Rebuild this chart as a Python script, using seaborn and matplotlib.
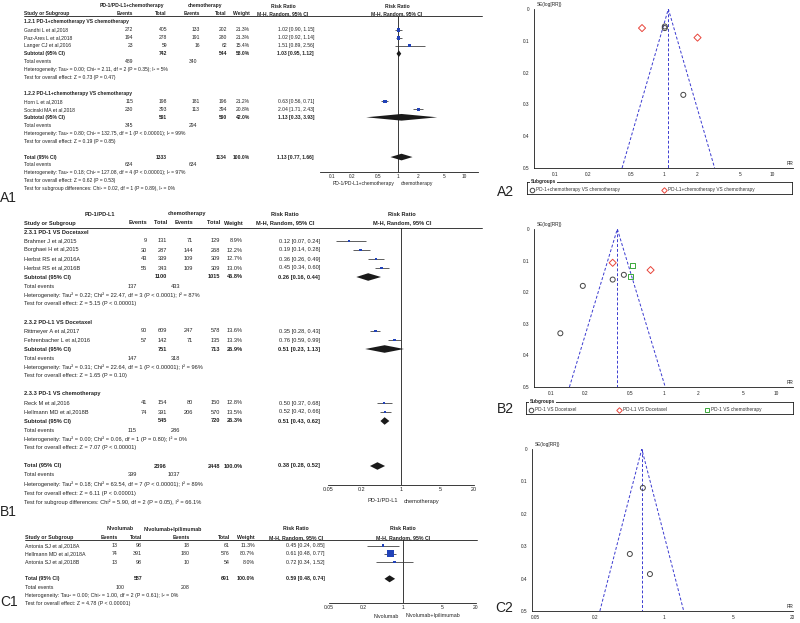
import numpy as np
import pandas as pd
import matplotlib
matplotlib.use('Agg')
import matplotlib.pyplot as plt
import seaborn as sns
from matplotlib.lines import Line2D
from matplotlib.ticker import NullLocator

# ---------------- A1: PD-1/PD-L1 + chemo vs chemo ----------------
a1_names = ['Gandhi L et al,2018', 'Paz-Ares L et al,2018', 'Langer CJ et al,2016',
            'Horn L et al,2018', 'Socinski MA et al,2018']
a1_sub = [0, 0, 0, 1, 1]
a1_ev1 = [272, 194, 23, 115, 230]
a1_n1 = [405, 278, 59, 198, 393]
a1_ev2 = [133, 191, 16, 181, 113]
a1_n2 = [202, 280, 62, 196, 394]
a1_w = [21.3, 21.3, 15.4, 21.2, 20.8]
a1_rr = [1.02, 1.02, 1.51, 0.63, 2.04]
a1_lo = [0.90, 0.92, 0.89, 0.56, 1.71]
a1_hi = [1.15, 1.14, 2.56, 0.71, 2.43]
a1_sub_titles = ['1.2.1 PD-1+chemotherapy VS chemotherapy',
                 '1.2.2 PD-L1+chemotherapy VS chemotherapy']
a1_sub_n1 = [742, 591]
a1_sub_n2 = [544, 590]
a1_sub_ev1 = [489, 345]
a1_sub_ev2 = [340, 294]
a1_sub_w = [58.0, 42.0]
a1_sub_rr = [1.03, 1.13]
a1_sub_lo = [0.95, 0.33]
a1_sub_hi = [1.12, 3.93]
a1_sub_het = ['Heterogeneity: Tau² = 0.00; Chi² = 2.11, df = 2 (P = 0.35); I² = 5%',
              'Heterogeneity: Tau² = 0.80; Chi² = 132.75, df = 1 (P < 0.00001); I² = 99%']
a1_sub_z = ['Test for overall effect: Z = 0.73 (P = 0.47)',
            'Test for overall effect: Z = 0.19 (P = 0.85)']
a1_tot = [1333, 1134, 634, 634]
a1_tot_rr = [1.13, 0.77, 1.66]
a1_foot = ['Heterogeneity: Tau² = 0.18; Chi² = 127.08, df = 4 (P < 0.00001); I² = 97%',
           'Test for overall effect: Z = 0.62 (P = 0.53)',
           'Test for subgroup differences: Chi² = 0.02, df = 1 (P = 0.89), I² = 0%']
a1_groups = ['PD-1/PD-L1+chemotherapy', 'chemotherapy']
a1_ticks = [0.1, 0.2, 0.5, 1, 2, 5, 10]
a1_ticklabels = ['0.1', '0.2', '0.5', '1', '2', '5', '10']

# ---------------- B1: PD-1/PD-L1 vs chemo ----------------
b1_names = ['Brahmer J et al,2015', 'Borghaei H et al,2015', 'Herbst RS et al,2016A',
            'Herbst RS et al,2016B', 'Rittmeyer A et al,2017', 'Fehrenbacher L et al,2016',
            'Reck M et al,2016', 'Hellmann MD et al,2018B']
b1_sub = [0, 0, 0, 0, 1, 1, 2, 2]
b1_ev1 = [9, 30, 43, 55, 90, 57, 41, 74]
b1_n1 = [131, 287, 339, 343, 609, 142, 154, 391]
b1_ev2 = [71, 144, 109, 109, 247, 71, 80, 206]
b1_n2 = [129, 268, 309, 309, 578, 135, 150, 570]
b1_w = [8.9, 12.2, 12.7, 13.0, 13.6, 13.3, 12.8, 13.5]
b1_rr = [0.12, 0.19, 0.36, 0.45, 0.35, 0.76, 0.50, 0.52]
b1_lo = [0.07, 0.14, 0.26, 0.34, 0.28, 0.59, 0.37, 0.42]
b1_hi = [0.24, 0.28, 0.49, 0.60, 0.43, 0.99, 0.68, 0.66]
b1_sub_titles = ['2.3.1 PD-1 VS Docetaxel', '2.3.2 PD-L1 VS Docetaxel', '2.3.3 PD-1 VS chemotherapy']
b1_sub_n1 = [1100, 751, 545]
b1_sub_n2 = [1015, 713, 720]
b1_sub_ev1 = [137, 147, 115]
b1_sub_ev2 = [433, 318, 286]
b1_sub_w = [46.8, 26.9, 26.3]
b1_sub_rr = [0.26, 0.51, 0.51]
b1_sub_lo = [0.16, 0.23, 0.43]
b1_sub_hi = [0.44, 1.13, 0.62]
b1_sub_het = ['Heterogeneity: Tau² = 0.22; Chi² = 22.47, df = 3 (P < 0.0001); I² = 87%',
              'Heterogeneity: Tau² = 0.31; Chi² = 22.64, df = 1 (P < 0.00001); I² = 96%',
              'Heterogeneity: Tau² = 0.00; Chi² = 0.06, df = 1 (P = 0.80); I² = 0%']
b1_sub_z = ['Test for overall effect: Z = 5.15 (P < 0.00001)',
            'Test for overall effect: Z = 1.65 (P = 0.10)',
            'Test for overall effect: Z = 7.07 (P < 0.00001)']
b1_tot = [2396, 2448, 399, 1037]
b1_tot_rr = [0.38, 0.28, 0.52]
b1_foot = ['Heterogeneity: Tau² = 0.18; Chi² = 63.54, df = 7 (P < 0.00001); I² = 89%',
           'Test for overall effect: Z = 6.11 (P < 0.00001)',
           'Test for subgroup differences: Chi² = 5.90, df = 2 (P = 0.05), I² = 66.1%']
b1_groups = ['PD-1/PD-L1', 'chemotherapy']
b1_sides = ['PD-1/PD-L1', 'chemotherapy']

# ---------------- C1: Nivolumab vs Nivolumab+Ipilimumab ----------------
c1_names = ['Antonia SJ et al,2018A', 'Hellmann MD et al,2018A', 'Antonia SJ et al,2018B']
c1_ev1 = [13, 74, 13]
c1_n1 = [98, 391, 98]
c1_ev2 = [18, 180, 10]
c1_n2 = [61, 576, 54]
c1_w = [11.3, 80.7, 8.0]
c1_rr = [0.45, 0.61, 0.72]
c1_lo = [0.24, 0.48, 0.34]
c1_hi = [0.85, 0.77, 1.52]
c1_tot = [587, 691, 100, 208]
c1_tot_rr = [0.59, 0.48, 0.74]
c1_foot = ['Heterogeneity: Tau² = 0.00; Chi² = 1.00, df = 2 (P = 0.61); I² = 0%',
           'Test for overall effect: Z = 4.78 (P < 0.00001)']
c1_groups = ['Nivolumab', 'Nivolumab+Ipilimumab']
c1_sides = ['Nivolumab', 'Nivolumab+Ipilimumab']
bc_ticks = [0.05, 0.2, 1, 5, 20]
bc_ticklabels = ['0.05', '0.2', '1', '5', '20']

# ---------------- funnel plots (RR, SE(log RR)) ----------------
a2_pooled = 1.1
a2_rr_g1 = [1.02, 1.02, 1.51]
a2_se_g1 = [0.06, 0.055, 0.27]
a2_rr_g2 = [0.63, 2.04]
a2_se_g2 = [0.06, 0.09]
a2_labels = ['PD-1+chemotherapy VS chemotherapy', 'PD-L1+chemotherapy VS chemotherapy']

b2_pooled = 0.385
b2_rr_g1 = [0.12, 0.19, 0.35, 0.44]
b2_se_g1 = [0.33, 0.18, 0.16, 0.145]
b2_rr_g2 = [0.35, 0.76]
b2_se_g2 = [0.107, 0.13]
b2_rr_g3 = [0.50, 0.52]
b2_se_g3 = [0.15, 0.117]
b2_labels = ['PD-1 VS Docetaxel', 'PD-L1 VS Docetaxel', 'PD-1 VS chemotherapy']

c2_pooled = 0.595
c2_rr = [0.45, 0.61, 0.72]
c2_se = [0.324, 0.12, 0.386]

se_ticks = [0, 0.1, 0.2, 0.3, 0.4, 0.5]
se_ticklabels = ['0', '0.1', '0.2', '0.3', '0.4', '0.5']

# ---------------- figure ----------------
sns.set_theme(style='white')
plt.rcParams['font.family'] = ['Liberation Sans', 'DejaVu Sans']

W, H = 800, 623
fig = plt.figure(figsize=(8, 6.23), dpi=100)
fig.patch.set_facecolor('white')

SQ = '#2142b8'
FUN = '#3a3ad0'
GREY = '#444444'
RED = '#e8443a'
GREEN = '#3aa83a'


def txt(x, y, s, size, ha='left', bold=False):
    fig.text(x / W, 1 - y / H, s, fontsize=size, ha=ha, va='center',
             fontweight='bold' if bold else 'normal', color='#222222')


def add_ax(x0, y0, x1, y1):
    return fig.add_axes([x0 / W, 1 - y1 / H, (x1 - x0) / W, (y1 - y0) / H])


def hline(x0, x1, y):
    fig.add_artist(Line2D([x0 / W, x1 / W], [1 - y / H, 1 - y / H], color='k', lw=0.6))


def forest(L, names, ev1, n1, ev2, n2, w, rr, lo, hi, tot, tot_rr, foot, groups, sides,
           ticks, ticklabels, sub=None, sub_titles=None, sub_n1=None, sub_n2=None,
           sub_ev1=None, sub_ev2=None, sub_w=None, sub_rr=None, sub_lo=None, sub_hi=None,
           sub_het=None, sub_z=None):
    fs = L['fs']
    X = L['cols']

    def ry(r):
        return L['y0'] + r * L['dy']

    (ax0, ax1), (ay0, ay1) = L['ax_x'], L['ax_y']
    ax = add_ax(ax0, ay0, ax1, ay1)
    ax.set_xscale('log')
    ax.set_xlim(L['xlim'])
    ax.set_ylim((ay1 - L['y0']) / L['dy'], (ay0 - L['y0']) / L['dy'])
    ax.patch.set_alpha(0)
    for s in ['top', 'left', 'right']:
        ax.spines[s].set_visible(False)
    ax.spines['bottom'].set_linewidth(0.6)
    ax.spines['bottom'].set_color('k')
    ax.set_xticks(ticks)
    ax.set_xticklabels(ticklabels)
    ax.xaxis.set_minor_locator(NullLocator())
    ax.set_yticks([])
    ax.tick_params(axis='x', direction='in', length=2.5, width=0.5, labelsize=fs * 0.95,
                   pad=1.5, colors='#222222')
    ax.axvline(1, color='k', lw=0.6)

    # header
    txt(L['hdr1'][0], ry(0), groups[0], fs, 'center', True)
    txt(L['hdr1'][1], ry(0), groups[1], fs, 'center', True)
    txt(X['rrh'], ry(0), 'Risk Ratio', fs, 'center', True)
    txt(L['fh'], ry(0), 'Risk Ratio', fs, 'center', True)
    txt(X['name'], ry(1), 'Study or Subgroup', fs, bold=True)
    txt(X['ev1'], ry(1), 'Events', fs, 'right', True)
    txt(X['n1'], ry(1), 'Total', fs, 'right', True)
    txt(X['ev2'], ry(1), 'Events', fs, 'right', True)
    txt(X['n2'], ry(1), 'Total', fs, 'right', True)
    txt(X['w'], ry(1), 'Weight', fs, 'right', True)
    txt(X['rrh'], ry(1), 'M-H, Random, 95% CI', fs, 'center', True)
    txt(L['fh'], ry(1), 'M-H, Random, 95% CI', fs, 'center', True)
    hline(X['name'], L['line_end'], ay0)

    def ci(a, b, c):
        return f'{a:.2f} [{b:.2f}, {c:.2f}]'

    def diamond(r, est, a, b):
        ax.fill([a, est, b, est], [r, r - 0.42, r, r + 0.42], color='k', lw=0, zorder=3)

    rows_y, rows_x, rows_s = [], [], []

    def study(i, r):
        txt(X['name'], ry(r), names[i], fs)
        txt(X['ev1'], ry(r), str(ev1[i]), fs, 'right')
        txt(X['n1'], ry(r), str(n1[i]), fs, 'right')
        txt(X['ev2'], ry(r), str(ev2[i]), fs, 'right')
        txt(X['n2'], ry(r), str(n2[i]), fs, 'right')
        txt(X['w'], ry(r), f'{w[i]:.1f}%', fs, 'right')
        txt(X['rr'], ry(r), ci(rr[i], lo[i], hi[i]), fs, 'right')
        ax.hlines(r, lo[i], hi[i], color='#333333', lw=0.55, zorder=2)
        rows_y.append(r)
        rows_x.append(rr[i])
        rows_s.append(0.3 * w[i])

    def summary(r, label, a, b, wt, est, l, h):
        txt(X['name'], ry(r), label, fs, bold=True)
        txt(X['n1'], ry(r), str(a), fs, 'right', True)
        txt(X['n2'], ry(r), str(b), fs, 'right', True)
        txt(X['w'], ry(r), f'{wt:.1f}%', fs, 'right', True)
        txt(X['rr'], ry(r), ci(est, l, h), fs, 'right', True)
        diamond(r, est, l, h)

    def events(r, a, b):
        txt(X['name'], ry(r), 'Total events', fs)
        txt(X['te1'], ry(r), str(a), fs, 'right')
        txt(X['te2'], ry(r), str(b), fs, 'right')

    r = 2
    if sub_titles is not None:
        for g, title in enumerate(sub_titles):
            txt(X['name'], ry(r), title, fs, bold=True)
            r += 1
            for i in range(len(names)):
                if sub[i] == g:
                    study(i, r)
                    r += 1
            summary(r, 'Subtotal (95% CI)', sub_n1[g], sub_n2[g], sub_w[g],
                    sub_rr[g], sub_lo[g], sub_hi[g])
            r += 1
            events(r, sub_ev1[g], sub_ev2[g])
            r += 1
            txt(X['name'], ry(r), sub_het[g], fs)
            r += 1
            txt(X['name'], ry(r), sub_z[g], fs)
            r += 2
    else:
        for i in range(len(names)):
            study(i, r)
            r += 1
        r += 1
    summary(r, 'Total (95% CI)', tot[0], tot[1], 100.0, tot_rr[0], tot_rr[1], tot_rr[2])
    r += 1
    events(r, tot[2], tot[3])
    r += 1
    for f in foot:
        txt(X['name'], ry(r), f, fs)
        r += 1

    sns.scatterplot(x=rows_x, y=rows_y, s=rows_s, marker='s', color=SQ, edgecolor='none',
                    ax=ax, legend=False, zorder=4)

    # side labels below axis
    lx0, lx1 = np.log10(L['xlim'])
    x1px = ax0 + (0 - lx0) / (lx1 - lx0) * (ax1 - ax0)
    txt(x1px - 3, ay1 + L['side_dy'], sides[0], fs)
    fig.texts[-1].set_ha('right')
    txt(x1px + 3, ay1 + L['side_dy'], sides[1], fs)
    return ax


def funnel(box, xlim, pooled, series, ticks, ticklabels, fs=3.4):
    ax = add_ax(*box)
    ax.set_xscale('log')
    ax.set_xlim(xlim)
    ax.set_ylim(0.5, 0)
    ax.patch.set_alpha(0)
    for s in ['top', 'right']:
        ax.spines[s].set_visible(False)
    for s in ['left', 'bottom']:
        ax.spines[s].set_linewidth(0.6)
        ax.spines[s].set_color('k')
    k = np.exp(1.96 * 0.5)
    ax.plot([pooled / k, pooled, pooled * k], [0.5, 0, 0.5], ls=(0, (3, 2)), color=FUN, lw=0.7)
    ax.plot([pooled, pooled], [0, 0.5], ls=(0, (3, 2)), color=FUN, lw=0.7)
    for rr, se, mk, col in series:
        sns.scatterplot(x=rr, y=se, marker=mk, s=13, facecolor='none', edgecolor=col,
                        linewidth=0.7, ax=ax, legend=False, zorder=3)
    ax.set_xticks(ticks)
    ax.set_xticklabels(ticklabels)
    ax.xaxis.set_minor_locator(NullLocator())
    ax.set_yticks(se_ticks)
    ax.set_yticklabels(se_ticklabels)
    ax.tick_params(direction='inout', length=3, width=0.5, labelsize=fs, pad=1.5,
                   colors='#222222')
    ax.text(0.012, 1.01, 'SE(log[RR])', transform=ax.transAxes, fontsize=fs,
            ha='left', va='bottom', color='#222222')
    ax.text(1.0, 0.015, 'RR', transform=ax.transAxes, fontsize=fs, ha='right',
            va='bottom', color='#222222')
    return ax


def legend_box(x0, y0, x1, y1, entries, fs=3.4):
    lax = add_ax(x0, y0, x1, y1)
    lax.set_xlim(x0, x1)
    lax.set_ylim(y1, y0)
    lax.set_xticks([])
    lax.set_yticks([])
    for s in lax.spines.values():
        s.set_linewidth(0.6)
        s.set_color('k')
    ym = y1 - 4.5
    for x, label, mk, col in entries:
        lax.plot([x], [ym], marker=mk, ms=3.3 if mk != 'D' else 2.8, mfc='none', mec=col,
                 mew=0.7, ls='none', clip_on=False)
        lax.text(x + 4, ym, label, fontsize=fs, va='center', ha='left', color='#333333')
    lax.text(x0 + 4, y0, 'Subgroups', fontsize=fs, fontweight='bold', va='center', ha='left',
             color='#222222', bbox=dict(facecolor='white', edgecolor='none', pad=0.4))


# ---- A1 ----
A1 = dict(y0=6, dy=7.95, fs=3.6, hdr1=(132, 205), fh=397, line_end=482,
          cols=dict(name=24, ev1=133, n1=167, ev2=200, n2=227, w=250, rr=314, rrh=283,
                    te1=133, te2=197),
          ax_x=(320, 478), ax_y=(16, 172), xlim=(0.0658, 16.3), side_dy=12)
forest(A1, a1_names, a1_ev1, a1_n1, a1_ev2, a1_n2, a1_w, a1_rr, a1_lo, a1_hi,
       a1_tot, a1_tot_rr, a1_foot, a1_groups, a1_groups, a1_ticks, a1_ticklabels,
       sub=a1_sub, sub_titles=a1_sub_titles, sub_n1=a1_sub_n1, sub_n2=a1_sub_n2,
       sub_ev1=a1_sub_ev1, sub_ev2=a1_sub_ev2, sub_w=a1_sub_w, sub_rr=a1_sub_rr,
       sub_lo=a1_sub_lo, sub_hi=a1_sub_hi, sub_het=a1_sub_het, sub_z=a1_sub_z)

# ---- B1 ----
B1 = dict(y0=214, dy=9.0, fs=4.1, hdr1=(100, 187), fh=402, line_end=482,
          cols=dict(name=24, ev1=147, n1=167, ev2=193, n2=220, w=243, rr=320, rrh=285,
                    te1=137, te2=180),
          ax_x=(328, 474), ax_y=(228, 485), xlim=(0.05, 20), side_dy=16)
forest(B1, b1_names, b1_ev1, b1_n1, b1_ev2, b1_n2, b1_w, b1_rr, b1_lo, b1_hi,
       b1_tot, b1_tot_rr, b1_foot, b1_groups, b1_sides, bc_ticks, bc_ticklabels,
       sub=b1_sub, sub_titles=b1_sub_titles, sub_n1=b1_sub_n1, sub_n2=b1_sub_n2,
       sub_ev1=b1_sub_ev1, sub_ev2=b1_sub_ev2, sub_w=b1_sub_w, sub_rr=b1_sub_rr,
       sub_lo=b1_sub_lo, sub_hi=b1_sub_hi, sub_het=b1_sub_het, sub_z=b1_sub_z)

# ---- C1 ----
C1 = dict(y0=529, dy=8.3, fs=3.8, hdr1=(120, 173), fh=403, line_end=477,
          cols=dict(name=25, ev1=118, n1=142, ev2=190, n2=230, w=255, rr=325, rrh=296,
                    te1=125, te2=190),
          ax_x=(329, 476), ax_y=(540, 603), xlim=(0.05, 20), side_dy=13)
forest(C1, c1_names, c1_ev1, c1_n1, c1_ev2, c1_n2, c1_w, c1_rr, c1_lo, c1_hi,
       c1_tot, c1_tot_rr, c1_foot, c1_groups, c1_sides, bc_ticks, bc_ticklabels)

# ---- funnels ----
funnel((534, 9, 793, 168), (0.064, 15.4), a2_pooled,
       [(a2_rr_g1, a2_se_g1, 'o', GREY), (a2_rr_g2, a2_se_g2, 'D', RED)],
       a1_ticks, a1_ticklabels)
legend_box(527, 182, 792, 194, [(532, a2_labels[0], 'o', GREY), (664, a2_labels[1], 'D', RED)])

funnel((534, 229, 793, 387), (0.07, 14.0), b2_pooled,
       [(b2_rr_g1, b2_se_g1, 'o', GREY), (b2_rr_g2, b2_se_g2, 'D', RED),
        (b2_rr_g3, b2_se_g3, 's', GREEN)],
       a1_ticks, a1_ticklabels)
legend_box(526, 402, 793, 414, [(531, b2_labels[0], 'o', GREY), (619, b2_labels[1], 'D', RED),
                                (707, b2_labels[2], 's', GREEN)])

funnel((532, 449, 793, 611), (0.0457, 20.4), c2_pooled,
       [(c2_rr, c2_se, 'o', GREY)], bc_ticks, bc_ticklabels)

# ---- panel labels ----
for lab, x, y in [('A1', 0, 198), ('B1', 0, 512), ('C1', 0, 602),
                  ('A2', 497, 192), ('B2', 497, 409), ('C2', 495, 608)]:
    txt(x, y, lab, 10)

fig.savefig('out.png', dpi=100)
